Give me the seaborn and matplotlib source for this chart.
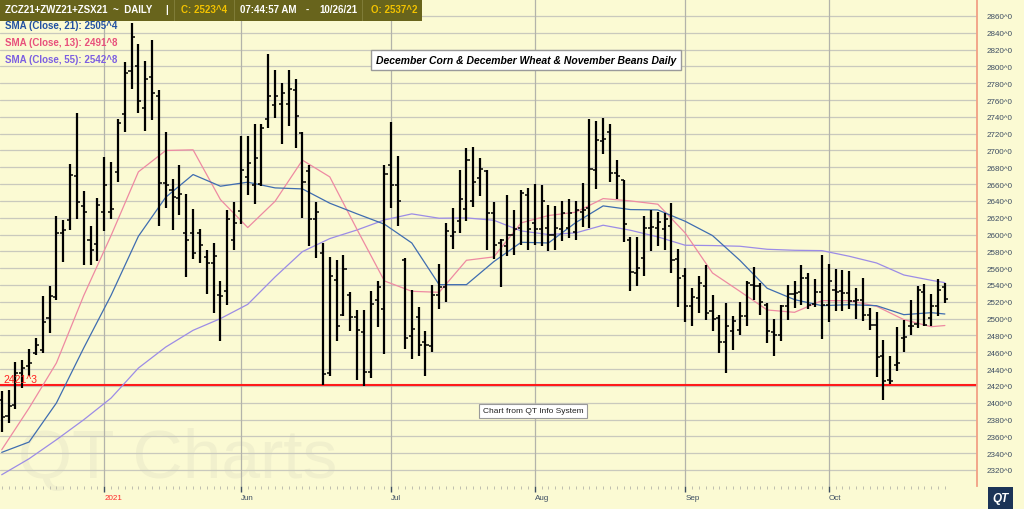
import matplotlib
matplotlib.use("Agg")
import matplotlib.pyplot as plt
import seaborn as sns
import numpy as np
import pandas as pd
from matplotlib.patches import Rectangle
from matplotlib.ticker import FixedLocator, FuncFormatter

# ---------------- data ----------------
highs = [2413.5, 2415.5, 2448.0, 2451.2, 2463.9, 2477.0, 2526.6, 2539.3, 2621.8, 2617.8,
         2684.5, 2744.8, 2651.5, 2610.7, 2643.6, 2692.4, 2686.1, 2737.7, 2805.1, 2851.9,
         2826.1, 2806.3, 2831.3, 2771.4, 2721.8, 2666.2, 2682.5, 2648.8, 2630.9, 2606.7,
         2581.3, 2590.0, 2544.4, 2629.7, 2638.5, 2717.8, 2717.8, 2732.1, 2732.1, 2814.2,
         2795.2, 2780.5, 2795.2, 2784.5, 2721.8, 2682.5, 2638.5, 2590.0,
         2573.4, 2569.4, 2576.2, 2531.3, 2510.7, 2510.7, 2532.5, 2544.4, 2683.3, 2733.7,
         2693.2, 2572.2, 2533.7, 2513.9, 2485.7, 2539.6, 2565.0, 2613.9, 2631.7, 2677.3,
         2703.1, 2703.9, 2691.2, 2676.5, 2638.5, 2594.8, 2647.6, 2629.7, 2652.7, 2655.5,
         2660.3, 2658.7, 2635.7, 2634.5, 2639.6, 2642.4, 2639.6, 2661.5, 2736.9, 2734.9,
         2738.8, 2731.7, 2688.1, 2665.4, 2597.2, 2597.2, 2621.8,
         2628.9, 2626.5, 2625.7, 2637.7, 2582.9, 2560.3, 2536.5, 2551.2, 2564.3, 2528.5,
         2504.7, 2518.6, 2503.5, 2519.4, 2544.4, 2561.5, 2542.4, 2518.6, 2499.6, 2516.6,
         2540.4, 2544.4, 2564.3, 2554.3, 2547.2, 2576.2, 2565.4, 2559.1, 2557.5, 2557.1,
         2536.5, 2548.4, 2512.7, 2507.5, 2474.2, 2455.9, 2490.1, 2498.0, 2521.8, 2539.3,
         2541.6, 2529.7, 2547.6, 2542.4]
lows = [2365.1, 2375.8, 2392.4, 2417.4, 2431.3, 2457.1, 2459.1, 2482.9, 2522.6, 2567.0,
        2605.9, 2618.6, 2564.3, 2564.3, 2568.2, 2604.7, 2618.6, 2662.3, 2721.8, 2773.4,
        2744.8, 2723.0, 2735.7, 2610.7, 2631.7, 2605.1, 2623.8, 2549.2, 2571.0, 2566.2,
        2529.3, 2506.7, 2473.0, 2515.8, 2582.1, 2613.1, 2646.8, 2636.5, 2657.5, 2726.9,
        2738.8, 2707.9, 2728.9, 2703.1, 2619.8, 2586.1, 2572.2, 2421.3,
        2432.1, 2473.0, 2503.5, 2484.9, 2426.6, 2420.2, 2429.3, 2490.1, 2457.9, 2631.7,
        2610.7, 2463.9, 2452.0, 2455.1, 2432.1, 2459.9, 2511.5, 2519.4, 2582.9, 2601.9,
        2616.6, 2632.5, 2645.6, 2582.1, 2571.0, 2537.7, 2575.0, 2576.2, 2588.1, 2582.1,
        2588.1, 2586.1, 2580.1, 2582.1, 2592.0, 2596.0, 2594.0, 2608.7, 2607.9, 2654.3,
        2696.4, 2662.3, 2642.4, 2590.8, 2532.5, 2538.5, 2551.2,
        2580.1, 2586.9, 2582.1, 2554.3, 2513.9, 2495.6, 2491.6, 2506.7, 2498.8, 2485.7,
        2459.1, 2435.3, 2462.3, 2480.9, 2490.8, 2522.6, 2504.7, 2471.0, 2455.1, 2473.0,
        2498.8, 2512.7, 2516.6, 2511.5, 2513.9, 2475.8, 2495.6, 2508.7, 2508.7, 2511.5,
        2499.6, 2496.8, 2486.1, 2430.1, 2402.8, 2422.2, 2437.3, 2459.9, 2480.9, 2488.9,
        2490.8, 2490.8, 2503.5, 2518.6]
opens = [2403.5, 2383.7, 2397.6, 2435.3, 2443.2, 2459.1, 2463.1, 2500.8, 2525.8, 2601.9,
         2617.8, 2669.4, 2633.7, 2594.0, 2588.9, 2626.9, 2626.5, 2674.6, 2743.6, 2794.4,
         2800.3, 2750.7, 2787.7, 2765.4, 2661.5, 2653.5, 2643.6, 2601.9, 2601.9, 2601.9,
         2573.4, 2566.2, 2528.5, 2532.5, 2593.2, 2627.7, 2668.6, 2658.7, 2660.7, 2738.0,
         2753.9, 2755.5, 2755.5, 2771.8, 2721.0, 2675.4, 2619.0, 2578.1,
         2435.3, 2546.4, 2504.7, 2528.5, 2501.6, 2483.7, 2436.1, 2522.6, 2511.5, 2683.3,
         2658.7, 2570.2, 2478.9, 2501.6, 2471.8, 2467.8, 2528.5, 2537.3, 2598.0, 2616.6,
         2630.9, 2639.6, 2667.4, 2675.4, 2625.8, 2590.0, 2586.9, 2600.0, 2607.9, 2646.8,
         2613.9, 2606.7, 2607.9, 2600.0, 2606.7, 2607.9, 2603.1, 2626.5, 2631.0, 2676.5,
         2711.1, 2722.2, 2673.4, 2665.4, 2594.0, 2554.3, 2572.2,
         2607.9, 2607.9, 2606.7, 2610.7, 2571.0, 2551.2, 2514.7, 2524.6, 2539.3, 2508.7,
         2500.8, 2471.8, 2484.9, 2486.1, 2503.5, 2540.4, 2538.5, 2516.6, 2483.7, 2480.9,
         2514.7, 2529.7, 2531.3, 2548.4, 2517.8, 2531.3, 2516.6, 2533.7, 2532.5, 2530.5,
         2520.6, 2522.6, 2504.7, 2492.8, 2455.9, 2427.4, 2445.2, 2477.0, 2491.6, 2494.0,
         2531.3, 2500.8, 2514.7, 2537.25]
closes = [2382.9, 2395.6, 2435.3, 2441.2, 2447.2, 2469.0, 2495.6, 2526.6, 2601.9, 2605.9,
          2671.4, 2638.5, 2626.9, 2582.1, 2635.7, 2658.7, 2630.5, 2732.9, 2792.4, 2835.3,
          2758.7, 2785.3, 2767.8, 2661.5, 2659.5, 2644.8, 2648.8, 2593.2, 2578.1, 2588.1,
          2566.2, 2574.2, 2527.3, 2618.6, 2613.9, 2676.5, 2685.3, 2691.2, 2726.9, 2765.4,
          2765.4, 2768.6, 2773.4, 2741.6, 2662.3, 2619.0, 2626.9, 2434.5,
          2550.4, 2491.6, 2559.1, 2501.6, 2486.1, 2436.1, 2517.4, 2537.3, 2672.2, 2658.7,
          2639.6, 2477.0, 2487.7, 2469.0, 2469.0, 2528.5, 2537.3, 2603.9, 2603.1, 2642.8,
          2688.1, 2662.3, 2678.1, 2625.8, 2587.3, 2594.0, 2600.0, 2606.7, 2649.6, 2606.7,
          2606.7, 2639.6, 2600.0, 2607.9, 2625.8, 2625.8, 2629.7, 2629.7, 2678.1, 2711.9,
          2713.1, 2673.4, 2670.2, 2613.1, 2555.5, 2560.3, 2607.9,
          2609.1, 2614.6, 2618.6, 2569.4, 2548.4, 2514.7, 2525.8, 2542.4, 2506.7, 2499.6,
          2471.8, 2491.6, 2496.8, 2503.5, 2542.4, 2538.5, 2519.4, 2484.9, 2480.9, 2514.7,
          2529.7, 2530.5, 2548.4, 2516.6, 2531.3, 2516.6, 2544.4, 2531.3, 2530.5, 2520.6,
          2522.6, 2504.7, 2492.8, 2453.9, 2426.2, 2426.2, 2447.2, 2478.1, 2490.8, 2533.7,
          2492.8, 2515.4, 2534.5, 2523.5]

# moving averages at every 4th bar (and the last bar)
sma_bar = list(range(0, 137, 4)) + [138]
sma13 = [2344.0, 2393.6, 2447.2, 2527.4, 2598.8, 2674.6, 2700.0, 2700.8, 2641.6, 2608.3,
         2639.6, 2688.5, 2668.6, 2605.9, 2544.8, 2532.5, 2531.3, 2569.4, 2573.4, 2613.9,
         2622.6, 2626.6, 2642.8, 2640.0, 2636.1, 2601.9, 2554.3, 2532.5, 2510.3, 2507.5,
         2521.4, 2521.4, 2514.7, 2498.8, 2490.4, 2491.8]
sma21 = [2340.9, 2353.2, 2399.6, 2465.1, 2527.7, 2598.0, 2644.4, 2671.4, 2657.5, 2662.3,
         2655.5, 2654.3, 2637.3, 2624.6, 2612.3, 2590.0, 2540.4, 2540.4, 2567.8, 2590.8,
         2590.0, 2614.3, 2634.1, 2629.7, 2629.3, 2615.8, 2598.8, 2569.4, 2536.1, 2522.6,
         2515.4, 2516.6, 2515.4, 2504.7, 2507.1, 2505.5]
sma55 = [2314.3, 2333.3, 2355.9, 2379.7, 2405.5, 2441.2, 2466.2, 2486.1, 2500.0, 2517.0,
         2549.6, 2579.7, 2595.2, 2605.5, 2617.4, 2624.6, 2619.4, 2619.8, 2617.0, 2604.3,
         2600.0, 2602.0, 2611.1, 2605.1, 2597.2, 2587.3, 2586.9, 2586.1, 2582.5, 2581.3,
         2580.9, 2574.2, 2566.2, 2551.9, 2545.6, 2542.8]

month_bar = [15, 35, 57, 78, 100, 121]
month_labels = ["2021", "Jun", "Jul", "Aug", "Sep", "Oct"]
y_ticks = list(range(2320, 2861, 20))
support_level = 2421.3

legend_labels = ["SMA (Close, 21): 2505^4", "SMA (Close, 13): 2491^8", "SMA (Close, 55): 2542^8"]
title_text = "December Corn & December Wheat & November Beans Daily"
credit_text = "Chart from QT Info System"

# ---------------- styling ----------------
sns.set_theme(style="white")
plt.rcParams['font.family'] = ['Liberation Sans', 'DejaVu Sans']

BG = '#fbfad3'
W, H = 1024, 510


def fx(px):
    return px / W


def fy(py):
    return 1 - py / H


fig = plt.figure(figsize=(10.24, 5.10), dpi=100, facecolor=BG)
ax = fig.add_axes([0, fy(487), fx(977), 487 / H])
ax.set_facecolor(BG)

x = np.arange(len(highs))
ax.set_xlim(-0.25, 142.7)
ax.set_ylim(2300.9, 2880.2)

# grid
for v in y_ticks:
    ax.axhline(v, color='#c9c9bd', lw=0.9, zorder=1)
for p in month_bar:
    ax.axvline(p, color='#b3b3aa', lw=0.9, zorder=1)

# watermark
ax.text(fx(18), fy(478), "QT Charts", transform=fig.transFigure, fontsize=50,
        color='#f1f0cd', ha='left', va='baseline', zorder=0.5)

# support line
ax.axhline(support_level, color='#ff1a1a', lw=1.5, zorder=2)
ax.text(0.2, support_level + 1.5, "2421^3", color='#ff2020', fontsize=7.5,
        ha='left', va='bottom', zorder=6)

# moving averages via seaborn
sma_df = pd.DataFrame({"bar": sma_bar, "SMA13": sma13, "SMA21": sma21, "SMA55": sma55})
sns.lineplot(data=sma_df, x="bar", y="SMA55", color='#9c8ce6', lw=0.9, ax=ax, zorder=3)
sns.lineplot(data=sma_df, x="bar", y="SMA13", color='#ee8aa2', lw=0.9, ax=ax, zorder=3)
sns.lineplot(data=sma_df, x="bar", y="SMA21", color='#3f6db0', lw=0.9, ax=ax, zorder=3)

# OHLC bars
ax.vlines(x, lows, highs, color='black', lw=1.6, zorder=4)
ax.hlines(opens, x - 0.45, x, color='black', lw=1.1, zorder=4)
ax.hlines(closes, x, x + 0.45, color='black', lw=1.1, zorder=4)

# axes styling
ax.set_xlabel("")
ax.set_ylabel("")
for s in ['top', 'left', 'bottom']:
    ax.spines[s].set_visible(False)
ax.spines['right'].set_visible(True)
ax.spines['right'].set_color('#f2a085')
ax.spines['right'].set_linewidth(1.3)

ax.yaxis.tick_right()
ax.set_yticks(y_ticks)
ax.yaxis.set_major_formatter(FuncFormatter(lambda v, p: f"{int(round(v))}^0"))
ax.tick_params(axis='y', length=0, pad=7, labelsize=5.8, labelcolor='#3d4d62')

ax.xaxis.set_major_locator(FixedLocator(month_bar))
ax.set_xticklabels(month_labels)
ax.xaxis.set_minor_locator(FixedLocator(list(x)))
ax.tick_params(axis='x', which='major', length=4, width=1, color='#3d4d62', direction='out',
               labelsize=5.8, labelcolor='#3d4d62', pad=2, bottom=True)
ax.tick_params(axis='x', which='minor', length=2, width=0.6, color='#b5b5a8', direction='out',
               bottom=True)
for lbl in ax.get_xticklabels():
    lbl.set_horizontalalignment('left')
ax.get_xticklabels()[0].set_color('#ff2a2a')

# header bar
fig.patches.append(Rectangle((0, fy(22)), fx(422), 22 / H, transform=fig.transFigure,
                             facecolor='#68641c', edgecolor='none', zorder=5))
for dx in [174, 234, 362]:
    fig.patches.append(Rectangle((fx(dx), fy(22)), fx(1), 22 / H, transform=fig.transFigure,
                                 facecolor='#7f7c38', edgecolor='none', zorder=5))
hdr_y = fy(10)
hfs = 7.0
fig.text(fx(5), hdr_y, "ZCZ21+ZWZ21+ZSX21  ~  DAILY", color='white', fontsize=hfs,
         fontweight='bold', va='center', ha='left', zorder=6)
fig.text(fx(165), hdr_y, "|", color='white', fontsize=hfs, fontweight='bold', va='center', zorder=6)
fig.text(fx(181), hdr_y, "C: 2523^4", color='#f2c200', fontsize=hfs, fontweight='bold',
         va='center', zorder=6)
fig.text(fx(240), hdr_y, "07:44:57 AM", color='white', fontsize=hfs, fontweight='bold',
         va='center', zorder=6)
fig.text(fx(306), hdr_y, "-", color='white', fontsize=hfs, fontweight='bold', va='center', zorder=6)
fig.text(fx(319), hdr_y, "10/26/21", color='white', fontsize=hfs, fontweight='bold',
         va='center', zorder=6)
fig.text(fx(371), hdr_y, "O: 2537^2", color='#f2c200', fontsize=hfs, fontweight='bold',
         va='center', zorder=6)

# legend texts
leg_colors = ['#2352a3', '#e8507c', '#7c5fe2']
for i, (txt, c) in enumerate(zip(legend_labels, leg_colors)):
    fig.text(fx(5), fy(26 + 17 * i), txt, color=c, fontsize=7, fontweight='bold',
             va='center', ha='left', zorder=6)

# title box
fig.text(fx(526), fy(61), title_text, fontsize=7.5, fontweight='bold', style='italic',
         color='black', ha='center', va='center', zorder=6,
         bbox=dict(boxstyle='square,pad=0.45', facecolor='white', edgecolor='#9a9a9a', lw=1))

# credit box
fig.text(fx(533), fy(412), credit_text, fontsize=6, color='#222222', ha='center', va='center',
         zorder=6, bbox=dict(boxstyle='square,pad=0.45', facecolor='white', edgecolor='#9a9a9a', lw=0.8))

# QT logo
fig.patches.append(Rectangle((fx(988), fy(510)), fx(25), 22 / H, transform=fig.transFigure,
                             facecolor='#1b3357', edgecolor='none', zorder=5))
fig.text(fx(1000.5), fy(499), "QT", color='white', fontsize=8.5, fontweight='bold',
         style='italic', ha='center', va='center', zorder=6)

fig.savefig("out.png", dpi=100, facecolor=BG)
